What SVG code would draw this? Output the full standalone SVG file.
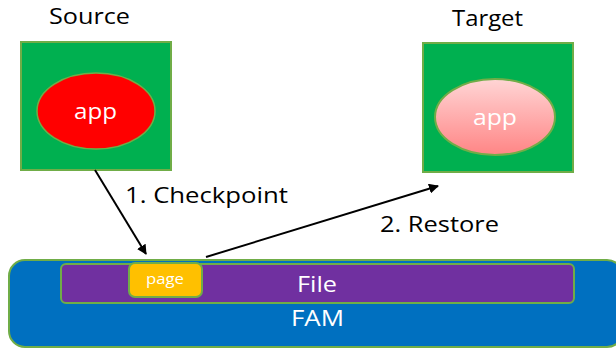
<svg xmlns="http://www.w3.org/2000/svg" width="616" height="348" viewBox="0 0 616 348">
  <style>
    text { font-family: "Open Sans", "Noto Sans", "DejaVu Sans", sans-serif; }
    .title { font-size: 21px; fill: #000; text-anchor: middle; }
    .label { font-size: 21px; fill: #000; }
    .inner { font-size: 21px; fill: #fff; text-anchor: middle; }
    .small { font-size: 14px; fill: #fff; text-anchor: middle; }
    .box { fill: #00B050; stroke: #70AD47; stroke-width: 2; }
    .edge { stroke: #000; stroke-width: 2; fill: none; marker-end: url(#arrow); }
  </style>
  <defs>
    <marker id="arrow" viewBox="0 0 10 10" refX="9" refY="5" markerWidth="5" markerHeight="5" orient="auto" markerUnits="strokeWidth">
      <path d="M0,0 L10,5 L0,10 z" fill="#000"/>
    </marker>
    <linearGradient id="restored" x1="0" y1="0" x2="0" y2="1">
      <stop offset="0" stop-color="#FFD5D5"/>
      <stop offset="1" stop-color="#FF8585"/>
    </linearGradient>
  </defs>

  <g id="source">
    <text class="title" x="89.5" y="24" textLength="81" lengthAdjust="spacingAndGlyphs">Source</text>
    <rect class="box" x="21" y="42" width="150" height="128"/>
    <ellipse cx="96" cy="111" rx="59" ry="38" fill="#FF0000" stroke="#70AD47" stroke-width="1.5"/>
    <text class="inner" x="95.5" y="119" textLength="43" lengthAdjust="spacingAndGlyphs">app</text>
  </g>

  <g id="target">
    <text class="title" x="487.5" y="26" textLength="71" lengthAdjust="spacingAndGlyphs">Target</text>
    <rect class="box" x="423" y="43" width="150" height="129"/>
    <ellipse cx="495" cy="117" rx="60" ry="38" fill="url(#restored)" stroke="#70AD47" stroke-width="2"/>
    <text class="inner" x="495" y="125" textLength="44" lengthAdjust="spacingAndGlyphs">app</text>
  </g>

  <g id="fam">
    <rect x="9" y="260" width="614" height="87" rx="16" fill="#0070C0" stroke="#70AD47" stroke-width="2"/>
    <text class="inner" x="317.5" y="326" textLength="53" lengthAdjust="spacingAndGlyphs">FAM</text>
  </g>

  <g id="file">
    <rect x="61" y="264" width="513" height="39" rx="5" fill="#7030A0" stroke="#70AD47" stroke-width="2"/>
    <text class="inner" x="317" y="292" textLength="40" lengthAdjust="spacingAndGlyphs">File</text>
  </g>

  <g id="page">
    <rect x="129" y="263" width="73" height="34" rx="6" fill="#FFC000" stroke="#70AD47" stroke-width="2"/>
    <text class="small" x="165" y="284" textLength="38" lengthAdjust="spacingAndGlyphs">page</text>
  </g>

  <g id="connectors">
    <line class="edge" x1="95" y1="170" x2="146" y2="254"/>
    <text class="label" x="125" y="203" textLength="163" lengthAdjust="spacingAndGlyphs">1. Checkpoint</text>
    <line class="edge" x1="206" y1="257" x2="438" y2="186"/>
    <text class="label" x="380" y="232" textLength="119" lengthAdjust="spacingAndGlyphs">2. Restore</text>
  </g>
</svg>
